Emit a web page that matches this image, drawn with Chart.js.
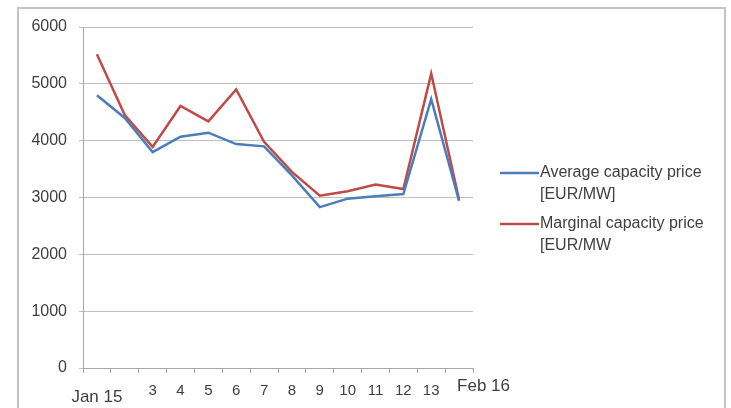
<!DOCTYPE html>
<html>
<head>
<meta charset="utf-8">
<script src="https://cdn.jsdelivr.net/npm/chart.js@4/dist/chart.umd.min.js"></script>
<style>
  html, body { margin: 0; padding: 0; background: #ffffff; }
  #wrap { position: relative; width: 731px; height: 408px; }
</style>
</head>
<body>
<div id="wrap"><canvas id="chart" width="731" height="408"></canvas></div>
<script>
// Daily auction days, 15 January to 16 February
const days = ['Jan 15', '2', '3', '4', '5', '6', '7', '8', '9', '10', '11', '12', '13', 'Feb 16'];
// Labels skipped on the axis (too little room next to "Jan 15")
const hiddenDayLabels = ['2'];

const averagePrice  = [4800, 4400, 3800, 4070, 4140, 3940, 3900, 3390, 2830, 2980, 3020, 3060, 4730, 2940];
const marginalPrice = [5520, 4450, 3890, 4610, 4340, 4900, 3980, 3450, 3030, 3110, 3230, 3150, 5180, 2960];

const seriesNames = ['Average capacity price [EUR/MW]', 'Marginal capacity price [EUR/MW'];
const seriesColors = ['#4a7ebb', '#be4b48'];

const yTicks = [0, 1000, 2000, 3000, 4000, 5000, 6000];

const TEXT = '#404040';
const FONT = '"Liberation Sans", Arial, sans-serif';

// Frame around the whole chart
const framePlugin = {
  id: 'frame',
  beforeDraw(chart) {
    const ctx = chart.ctx;
    ctx.save();
    ctx.fillStyle = '#ffffff';
    ctx.fillRect(0, 0, chart.width, chart.height);
    ctx.strokeStyle = '#c4c4c4';
    ctx.lineWidth = 2;
    ctx.strokeRect(18, 8, 707, 440);
    ctx.restore();
  }
};

// Category labels under the x axis
const dayLabelPlugin = {
  id: 'dayLabels',
  afterDraw(chart) {
    const ctx = chart.ctx;
    const xs = chart.scales.x;
    const base = chart.chartArea.bottom;
    ctx.save();
    ctx.fillStyle = TEXT;
    ctx.textBaseline = 'middle';
    days.forEach((d, i) => {
      if (hiddenDayLabels.includes(d)) return;
      const x = xs.getPixelForValue(i);
      if (i === 0) {
        ctx.font = '17px ' + FONT;
        ctx.textAlign = 'center';
        ctx.fillText(d, x, base + 29);
      } else if (i === days.length - 1) {
        ctx.font = '17px ' + FONT;
        ctx.textAlign = 'left';
        ctx.fillText(d, x - 2, base + 18);
      } else {
        ctx.font = '15px ' + FONT;
        ctx.textAlign = 'center';
        ctx.fillText(d, x, base + 23);
      }
    });
    ctx.restore();
  }
};

// Legend on the right, wrapped into two lines per entry
const sideLegendPlugin = {
  id: 'sideLegend',
  afterDraw(chart) {
    const ctx = chart.ctx;
    ctx.save();
    ctx.font = '16px ' + FONT;
    ctx.textBaseline = 'middle';
    ctx.textAlign = 'left';
    const maxW = 170;
    const x0 = 500, lineLen = 39, textX = 540;
    let y = 173;
    chart.data.datasets.forEach(ds => {
      const words = ds.label.split(' ');
      const lines = [];
      let cur = '';
      words.forEach(w => {
        const test = cur ? cur + ' ' + w : w;
        if (ctx.measureText(test).width > maxW && cur) { lines.push(cur); cur = w; }
        else cur = test;
      });
      if (cur) lines.push(cur);
      ctx.strokeStyle = ds.borderColor;
      ctx.lineWidth = 2.5;
      ctx.beginPath();
      ctx.moveTo(x0, y);
      ctx.lineTo(x0 + lineLen, y);
      ctx.stroke();
      ctx.fillStyle = TEXT;
      lines.forEach((ln, k) => ctx.fillText(ln, textX, y + k * 22));
      y += 51;
    });
    ctx.restore();
  }
};

new Chart(document.getElementById('chart'), {
  type: 'line',
  data: {
    labels: days,
    datasets: [
      { label: seriesNames[0], data: averagePrice, borderColor: seriesColors[0], backgroundColor: seriesColors[0], borderWidth: 2.5, pointRadius: 0, tension: 0, fill: false },
      { label: seriesNames[1], data: marginalPrice, borderColor: seriesColors[1], backgroundColor: seriesColors[1], borderWidth: 2.5, pointRadius: 0, tension: 0, fill: false }
    ]
  },
  options: {
    responsive: false,
    animation: false,
    events: [],
    layout: { padding: { left: 0, right: 258, top: 27, bottom: 0 } },
    plugins: {
      legend: { display: false },
      tooltip: { enabled: false },
      title: { display: false }
    },
    scales: {
      x: {
        type: 'category',
        offset: true,
        grid: { offset: true, drawOnChartArea: false, drawTicks: true, tickLength: 5, color: '#a6a6a6', lineWidth: 1 },
        border: { display: true, color: '#a6a6a6', width: 1 },
        ticks: { display: false, autoSkip: false },
        afterFit(scale) { scale.height = 40; }
      },
      y: {
        min: 0,
        max: 6000,
        afterBuildTicks(scale) { scale.ticks = yTicks.map(v => ({ value: v })); },
        grid: { color: '#c0c0c0', lineWidth: 1, drawTicks: true, tickLength: 4 },
        border: { display: true, color: '#a6a6a6', width: 1 },
        ticks: { color: TEXT, font: { size: 16, family: FONT }, padding: 12, callback: v => String(v) },
        afterFit(scale) { scale.width = 83; }
      }
    }
  },
  plugins: [framePlugin, dayLabelPlugin, sideLegendPlugin]
});
</script>
</body>
</html>
